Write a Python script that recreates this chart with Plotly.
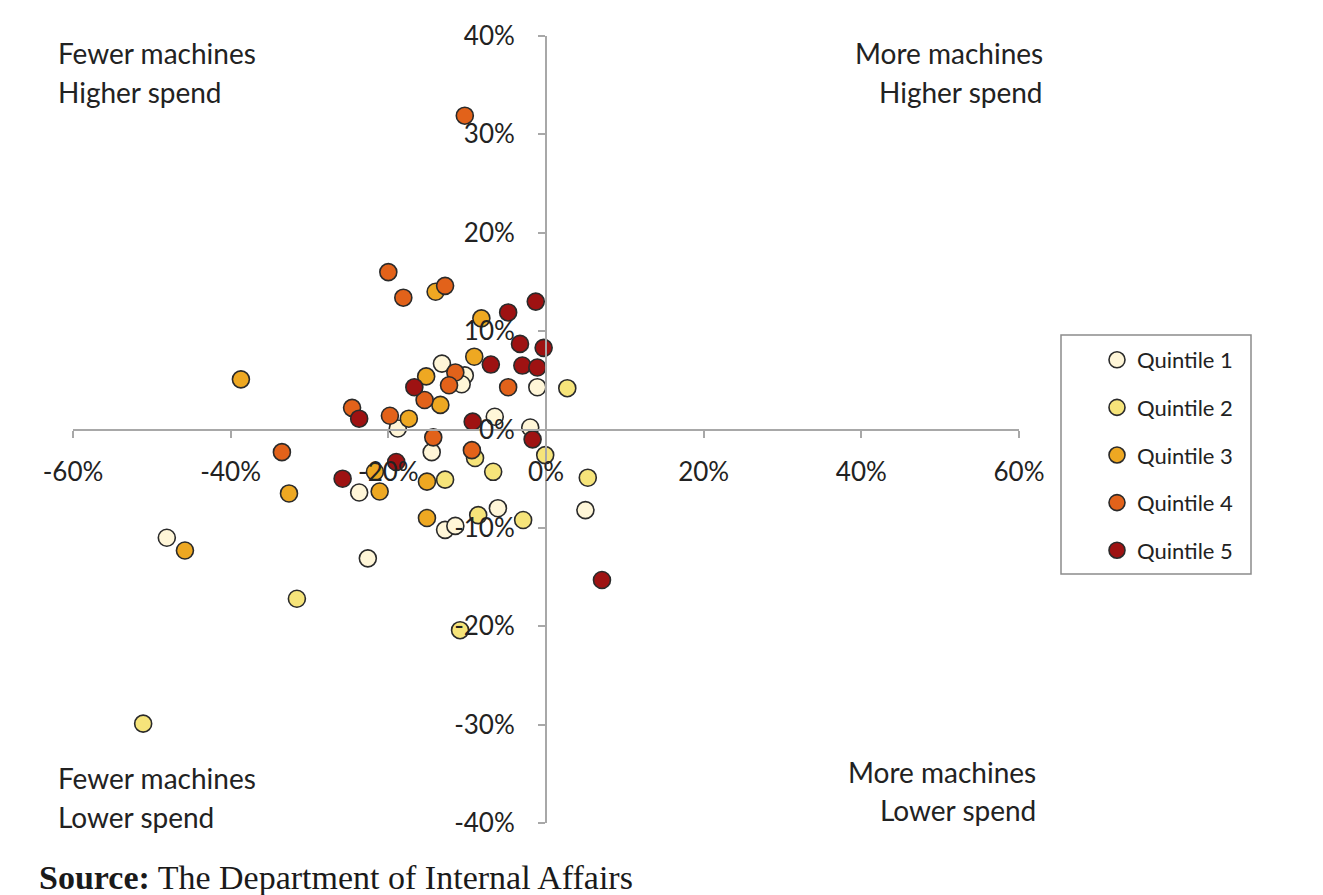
import plotly.graph_objects as go

# ---- data (percent change in machines, percent change in spend) ----
q1_x = [-48.1, -23.7, -22.6, -18.8, -14.5, -13.2, -10.3, -10.7, -12.8, -11.5, -6.5, -6.1, -2.0, -1.1, 5.0]
q1_y = [-11.0, -6.4, -13.1, 0.1, -2.3, 6.7, 5.5, 4.6, -10.2, -9.8, 1.3, -8.0, 0.2, 4.3, -8.2]

q2_x = [-51.1, -31.6, -10.9, -12.8, -9.0, -6.7, -8.6, -2.9, -0.1, 2.7, 5.3]
q2_y = [-29.9, -17.2, -20.4, -5.1, -2.9, -4.3, -8.7, -9.2, -2.6, 4.2, -4.9]

q3_x = [-38.7, -45.8, -32.6, -21.7, -21.1, -15.1, -15.1, -15.2, -13.4, -17.4, -14.0, -8.2, -9.1]
q3_y = [5.1, -12.3, -6.5, -4.3, -6.3, -5.3, -9.0, 5.4, 2.5, 1.1, 14.0, 11.3, 7.4]

q4_x = [-33.5, -24.6, -19.8, -15.4, -14.3, -20.0, -18.1, -12.8, -11.5, -12.3, -4.8, -9.4, -10.3]
q4_y = [-2.3, 2.2, 1.4, 3.0, -0.8, 16.0, 13.4, 14.6, 5.8, 4.5, 4.3, -2.1, 31.9]

q5_x = [-25.8, -23.7, -19.0, -16.7, -9.3, -7.0, -4.8, -3.3, -3.0, -1.3, -1.1, -0.3, -1.7, 7.1]
q5_y = [-5.0, 1.1, -3.3, 4.3, 0.8, 6.6, 11.9, 8.7, 6.5, 13.0, 6.3, 8.3, -1.0, -15.3]

series_names = ["Quintile 1", "Quintile 2", "Quintile 3", "Quintile 4", "Quintile 5"]
series_colors = ["#FFF6D8", "#F6E47A", "#EEA822", "#E2621A", "#9E1212"]

x_tickvals = [-60, -40, -20, 0, 20, 40, 60]
x_ticktext = ["-60%", "-40%", "-20%", "0%", "20%", "40%", "60%"]
y_tickvals = [-40, -30, -20, -10, 0, 10, 20, 30, 40]
y_ticktext = ["-40%", "-30%", "-20%", "-10%", "0%", "10%", "20%", "30%", "40%"]

# ---- layout geometry (page pixels; the page body adds an 8px offset) ----
OFF = 8
W, H = 1323 - OFF, 895 - OFF
PX0, PX1, PY0, PY1 = 73, 1019, 36, 823  # plot area in page pixels
L, T = PX0 - OFF, PY0 - OFF
R, B = W - (PX1 - OFF), H - (PY1 - OFF)
PW, PH = PX1 - PX0, PY1 - PY0


def px(xp):
    return (xp - PX0) / PW


def py(yp):
    return 1 - (yp - PY0) / PH


TEXT_FONT = "Lato"
TEXT_COLOR = "#222222"

fig = go.Figure()
all_x = [q1_x, q2_x, q3_x, q4_x, q5_x]
all_y = [q1_y, q2_y, q3_y, q4_y, q5_y]
for name, col, xs, ys in zip(series_names, series_colors, all_x, all_y):
    fig.add_trace(go.Scatter(
        x=xs, y=ys, mode="markers", name=name, legendgroup=name,
        marker=dict(size=17, color=col, line=dict(color="#2a2a2a", width=1.6)),
    ))

axis_common = dict(
    showgrid=False, zeroline=False, showline=True, linecolor="#A8A8A8", linewidth=2,
    ticks="outside", ticklen=7, tickcolor="#A8A8A8", tickwidth=1.5,
    tickfont=dict(family=TEXT_FONT, size=26, color=TEXT_COLOR),
    anchor="free", position=0.5,
)

fig.update_layout(
    width=W, height=H,
    margin=dict(l=L, r=R, t=T, b=B),
    paper_bgcolor="white", plot_bgcolor="rgba(0,0,0,0)",
    xaxis=dict(range=[-60, 60], tickvals=x_tickvals, ticktext=x_ticktext,
               ticklabelstandoff=12, **axis_common),
    yaxis=dict(range=[-40, 40], tickvals=y_tickvals, ticktext=y_ticktext,
               ticklabelstandoff=18, **axis_common),
    legend=dict(
        x=px(1097), y=py(339), xanchor="left", yanchor="top",
        bgcolor="rgba(0,0,0,0)", borderwidth=0,
        font=dict(family=TEXT_FONT, size=22, color=TEXT_COLOR),
        tracegroupgap=16, itemwidth=30,
    ),
    showlegend=True,
)

# legend frame
fig.add_shape(type="rect", xref="paper", yref="paper",
              x0=px(1061), x1=px(1251), y0=py(574), y1=py(335),
              fillcolor="white", line=dict(color="#8C8C8C", width=1.5), layer="below")

quad = [
    ("Fewer machines", 56, 53, "left"),
    ("Higher spend", 56, 92, "left"),
    ("More machines", 1045, 53, "right"),
    ("Higher spend", 1045, 92, "right"),
    ("Fewer machines", 56, 778, "left"),
    ("Lower spend", 56, 817, "left"),
    ("More machines", 1038, 772, "right"),
    ("Lower spend", 1038, 810, "right"),
]
for text, xp, yp, anc in quad:
    fig.add_annotation(text=text, xref="paper", yref="paper", x=px(xp), y=py(yp),
                       xanchor=anc, yanchor="middle", showarrow=False,
                       font=dict(family=TEXT_FONT, size=28, color=TEXT_COLOR))

fig.add_annotation(text="<b>Source:</b> The Department of Internal Affairs",
                   xref="paper", yref="paper", x=px(37), y=py(877),
                   xanchor="left", yanchor="middle", showarrow=False,
                   font=dict(family="Liberation Serif", size=34, color="#1a1a1a"))

fig.write_html("out.html")
